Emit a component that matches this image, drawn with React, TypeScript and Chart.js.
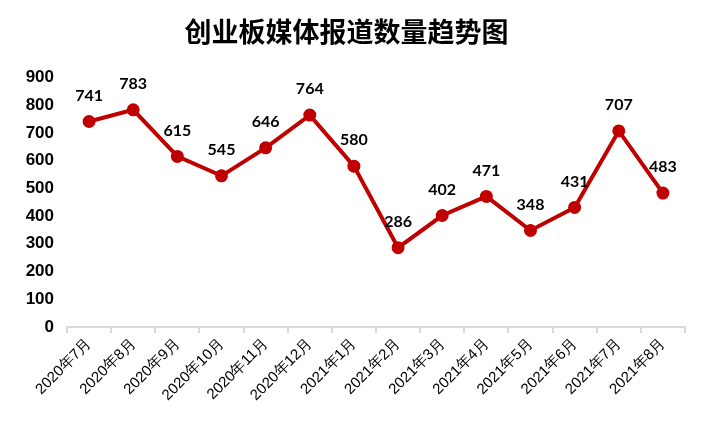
import React, { useEffect, useRef } from "react";
import { Chart, registerables } from "chart.js";

Chart.register(...registerables);

const TITLE = "创业板媒体报道数量趋势图";
const CATEGORIES = [
  "2020年7月", "2020年8月", "2020年9月", "2020年10月", "2020年11月", "2020年12月",
  "2021年1月", "2021年2月", "2021年3月", "2021年4月", "2021年5月", "2021年6月",
  "2021年7月", "2021年8月",
];
const VALUES = [741, 783, 615, 545, 646, 764, 580, 286, 402, 471, 348, 431, 707, 483];
const Y_MIN = 0;
const Y_MAX = 900;
const Y_STEP = 100;

const LINE_COLOR = "#C00000";

const dataLabelPlugin = {
  id: "dataLabels",
  afterDatasetsDraw(chart: any) {
    const ctx = chart.ctx;
    const meta = chart.getDatasetMeta(0);
    ctx.save();
    ctx.font = "bold 16px Lato, 'Liberation Sans', sans-serif";
    ctx.fillStyle = "#000";
    ctx.textAlign = "center";
    ctx.textBaseline = "middle";
    meta.data.forEach((pt: any, i: number) => {
      ctx.fillText(String(VALUES[i]), pt.x, pt.y - 26);
    });
    ctx.restore();
  },
};

export default function App() {
  const ref = useRef<HTMLCanvasElement | null>(null);
  useEffect(() => {
    if (!ref.current) return;
    const chart = new Chart(ref.current, {
      type: "line",
      data: {
        labels: CATEGORIES,
        datasets: [
          {
            data: VALUES,
            borderColor: LINE_COLOR,
            backgroundColor: LINE_COLOR,
            borderWidth: 4,
            pointRadius: 4.5,
            pointHoverRadius: 4.5,
            pointBackgroundColor: LINE_COLOR,
            pointBorderColor: LINE_COLOR,
            tension: 0,
          },
        ],
      },
      options: {
        animation: false,
        responsive: true,
        maintainAspectRatio: false,
        layout: { padding: { left: 0, right: 15, top: 0, bottom: 0 } },
        plugins: {
          legend: { display: false },
          tooltip: { enabled: false },
          title: {
            display: true,
            text: TITLE,
            color: "#000",
            font: { family: "'Noto Sans CJK SC'", size: 27, weight: "bold", lineHeight: 1.2 },
            padding: { top: 8, bottom: 29 },
          },
        },
        scales: {
          x: {
            offset: true,
            grid: {
              display: true,
              offset: true,
              drawOnChartArea: false,
              drawTicks: true,
              tickLength: 6,
              color: "#d9d9d9",
              lineWidth: 2,
            },
            border: { display: true, color: "#d9d9d9", width: 2 },
            ticks: {
              minRotation: 45,
              maxRotation: 45,
              autoSkip: false,
              color: "#000",
              padding: 2,
              font: { family: "'Liberation Sans', Arial, sans-serif", size: 15 },
            },
            afterFit: (scale: any) => {
              scale.height = 105;
            },
          },
          y: {
            min: Y_MIN,
            max: Y_MAX,
            grid: { display: false, drawTicks: false },
            border: { display: false },
            ticks: {
              stepSize: Y_STEP,
              color: "#000",
              padding: 13,
              font: { family: "'Liberation Sans', Arial, sans-serif", size: 17, weight: "bold" },
            },
            afterFit: (scale: any) => {
              scale.width = 59;
            },
          },
        },
      },
      plugins: [dataLabelPlugin],
    });
    return () => chart.destroy();
  }, []);
  return (
    <div style={{ width: 692, height: 424, position: "relative" }}>
      <canvas ref={ref} />
    </div>
  );
}
